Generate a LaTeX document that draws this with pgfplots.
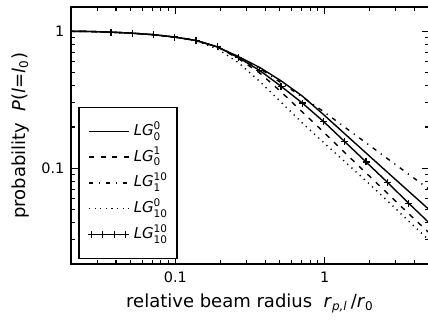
\documentclass[border=0pt]{standalone}
\usepackage{fontspec}
\setmainfont{DejaVu Sans}
\usepackage{amsmath}
\usepackage{pgfplots}
\pgfplotsset{compat=1.18}
\newcommand{\LG}[2]{$\text{\itshape LG}^{\text{#2}}_{\text{#1}}$}
\pgfplotsset{markedlegend/.style={legend image code/.code={\draw[##1, mark indices={1,2,3,4}] plot coordinates {(1.2pt,0pt) (6.9pt,0pt) (12.6pt,0pt) (18.3pt,0pt)}; \draw[##1, mark=none] (0pt,0pt) -- (20pt,0pt);}}}
\begin{document}
\begin{tikzpicture}
\begin{axis}[
  at={(0pt,0pt)}, anchor=south west,
  scale only axis, width=179pt, height=128.5pt,
  xmode=log, ymode=log,
  xmin=0.02, xmax=5, ymin=0.02, ymax=1.5,
  xtick={0.1,1}, xticklabels={0.1,1},
  ytick={0.1,1}, yticklabels={0.1,1},
  minor xtick={0.02,0.03,0.04,0.05,0.06,0.07,0.08,0.09,0.2,0.3,0.4,0.5,0.6,0.7,0.8,0.9,2,3,4,5},
  minor ytick={0.02,0.03,0.04,0.05,0.06,0.07,0.08,0.09,0.2,0.3,0.4,0.5,0.6,0.7,0.8,0.9},
  major tick length=3.5pt, minor tick length=2pt,
  every tick/.style={line width=0.6pt, black},
  axis line style={line width=0.8pt},
  /pgf/number format/assume math mode=true,
  tick label style={font=\fontsize{7.2}{8}\selectfont},
  xticklabel style={inner sep=0pt, yshift=-3.85pt},
  yticklabel style={inner sep=0pt, xshift=-3.1pt},
  xlabel={relative beam radius\ \ \textit{r}\textsubscript{\textit{p,l}}\,/\textit{r}\textsubscript{0}},
  xlabel style={at={(axis description cs:0.5,-0.1712)}, anchor=base, font=\fontsize{9}{10}\selectfont, inner sep=0pt},
  ylabel={probability\ \ \textit{P}(\textit{l}=\textit{l}\textsubscript{0})},
  ylabel style={at={(axis description cs:-0.141,0.5)}, anchor=center, font=\fontsize{9}{10}\selectfont, inner sep=0pt},
  legend cell align=left,
  legend image code/.code={\draw[mark repeat=2,mark phase=2,#1] plot coordinates {(0pt,0pt) (10pt,0pt) (20pt,0pt)};},
  legend style={at={(0.0204,0.0195)}, anchor=south west, draw=black, line width=0.65pt, fill=white,
    font=\fontsize{7.5}{9}\selectfont, inner xsep=4.5pt, inner ysep=7.5pt, row sep=4pt, column sep=2pt,
    nodes={inner sep=0pt, text height=6.5pt, text depth=2.4pt}},
]
% LG_0^0
\addplot[black, line width=0.7pt] coordinates {
(0.01924,0.998) (0.0267,0.994) (0.03706,0.983) (0.05144,0.966) (0.0714,0.942) (0.0991,0.905) (0.1376,0.855)
(0.1909,0.768) (0.265,0.651) (0.3678,0.543) (0.5105,0.434) (0.7086,0.336) (0.9836,0.246) (1.365,0.178)
(1.895,0.129) (2.630,0.0935) (3.651,0.0679) (5.067,0.0493)};
\addlegendentry{\LG{0}{0}}
% LG_0^1
\addplot[black, line width=0.7pt, dash pattern=on 2.6pt off 3.2pt] coordinates {
(0.01924,0.998) (0.0267,0.994) (0.03706,0.983) (0.05144,0.966) (0.0714,0.942) (0.0991,0.905) (0.1376,0.855)
(0.1909,0.768) (0.265,0.629) (0.3678,0.495) (0.5105,0.361) (0.7086,0.257) (0.9836,0.1837) (1.365,0.1298)
(1.895,0.0923) (2.630,0.0657) (3.651,0.0466) (5.067,0.0334)};
\addlegendentry{\LG{0}{1}}
% LG_1^10
\addplot[black, line width=0.7pt, dash pattern=on 2.2pt off 2.8pt on 0.6pt off 2.8pt] coordinates {
(0.01924,0.998) (0.0267,0.994) (0.03706,0.983) (0.05144,0.966) (0.0714,0.942) (0.0991,0.905) (0.1376,0.855)
(0.1909,0.768) (0.265,0.651) (0.3678,0.534) (0.5105,0.420) (0.7086,0.331) (0.9836,0.259) (1.365,0.199)
(1.895,0.1530) (2.630,0.1176) (3.651,0.0904) (5.067,0.0695)};
\addlegendentry{\LG{1}{10}}
% LG_10^0
\addplot[black, line width=0.7pt, dash pattern=on 0.6pt off 2.2pt] coordinates {
(0.01924,0.998) (0.0267,0.994) (0.03706,0.983) (0.05144,0.966) (0.0714,0.942) (0.0991,0.905) (0.1376,0.850)
(0.1909,0.7427) (0.265,0.5886) (0.3678,0.4292) (0.5105,0.3030) (0.7086,0.2139) (0.9836,0.1541) (1.365,0.1116)
(1.895,0.0807) (2.630,0.0579) (3.651,0.0411) (5.067,0.0295)};
\addlegendentry{\LG{10}{0}}
% LG_10^10
\addplot[black, line width=0.7pt, mark=+, mark size=1.75pt, mark indices={2,3,4,5,6,7,8,9,10,11,12,13,14,15,16,17},
  mark options={solid, line width=0.6pt}, markedlegend] coordinates {
(0.01924,0.998) (0.0267,0.994) (0.03706,0.983) (0.05144,0.966) (0.0714,0.942) (0.0991,0.905) (0.1376,0.855)
(0.1909,0.768) (0.265,0.640) (0.3678,0.516) (0.5105,0.396) (0.7086,0.299) (0.9836,0.219) (1.365,0.156)
(1.895,0.111) (2.630,0.079) (3.651,0.0555) (5.067,0.0395)};
\addlegendentry{\LG{10}{10}}
\end{axis}
\pgfresetboundingbox
\path[use as bounding box] (-35.5pt,-28pt) rectangle (178.5pt,132pt);
\end{tikzpicture}
\end{document}
